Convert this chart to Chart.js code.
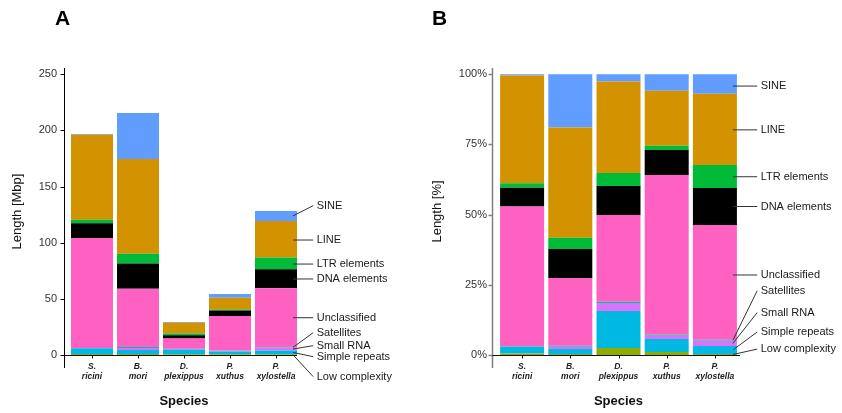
<!DOCTYPE html>
<html>
<head>
<meta charset="utf-8">
<script src="https://cdn.jsdelivr.net/npm/chart.js@4.4.1/dist/chart.umd.min.js"></script>
<style>
  body { margin: 0; background: #fff; }
  #wrap { position: relative; width: 842px; height: 413px; }
  canvas { position: absolute; top: 0; }
</style>
</head>
<body>
<div id="wrap">
  <canvas id="chartA" width="421" height="413" style="left:0"></canvas>
  <canvas id="chartB" width="421" height="413" style="left:421px"></canvas>
</div>
<script>
// data
const species = [['S.', 'ricini'], ['B.', 'mori'], ['D.', 'plexippus'], ['P.', 'xuthus'], ['P.', 'xylostella']];
const totalMbp = [196.9, 215.6, 29.4, 54.3, 128.3];

// stack order, bottom to top
const repeatClasses = ['Low complexity', 'Simple repeats', 'Small RNA', 'Satellites', 'Unclassified',
  'DNA elements', 'LTR elements', 'LINE', 'SINE'];

// share of each class in percent of the total repeat length
const lowComplexity = [0.5, 0.4, 2.5, 1.1, 0.35];
const simpleRepeats = [2.5, 1.7, 13.2, 4.6, 2.85];
const smallRNA = [0, 0.8, 2.8, 1.2, 1.9];
const satellites = [0, 0.4, 0.5, 0.3, 0.35];
const unclassified = [49.9, 24.1, 30.9, 56.9, 40.85];
const dnaElements = [6.7, 10.4, 10.3, 8.9, 13.2];
const ltrElements = [1.6, 4.0, 4.6, 1.5, 8.2];
const lineRep = [38.4, 39.2, 32.6, 19.6, 25.4];
const sineRep = [0.4, 19.0, 2.6, 5.9, 6.9];

const yTicksA = [0, 50, 100, 150, 200, 250];
const yTicksB = [0, 25, 50, 75, 100];

const percentSeries = [lowComplexity, simpleRepeats, smallRNA, satellites, unclassified,
  dnaElements, ltrElements, lineRep, sineRep];
const colors = ['#93AA00', '#00B9E3', '#DB72FB', '#00C19F', '#FF61C3', '#000000', '#00BA38', '#D39200', '#619CFF'];

const FONT = '"Liberation Sans", Arial, Helvetica, sans-serif';

// axes, panel letter and labelled leader lines
const decor = {
  id: 'decor',
  afterDraw(chart, args, o) {
    const { ctx, chartArea: a, scales: { x, y } } = chart;
    const ln = (x1, y1, x2, y2) => { ctx.beginPath(); ctx.moveTo(x1, y1); ctx.lineTo(x2, y2); ctx.stroke(); };
    ctx.save();

    ctx.fillStyle = '#000';
    ctx.font = 'bold 21px ' + FONT;
    ctx.textAlign = 'left';
    ctx.textBaseline = 'alphabetic';
    ctx.fillText(o.letter, o.letterX, 25);

    const ax = Math.round(a.left - o.gap) + 0.5;
    const by = Math.round(a.bottom) + 0.5;
    ctx.strokeStyle = o.yColor;
    ctx.lineWidth = o.yWidth;
    ln(ax, a.top, ax, a.bottom + 13);
    y.ticks.forEach(t => {
      const py = Math.round(y.getPixelForValue(t.value)) + 0.5;
      ln(ax - 4, py, ax, py);
    });
    ctx.strokeStyle = '#111';
    ctx.lineWidth = 1;
    ln(ax, by, a.right + o.xExt, by);
    x.ticks.forEach((t, i) => {
      const px = Math.round(x.getPixelForTick(i)) + 0.5;
      ln(px, by, px, by + 3);
    });

    ctx.font = '11px ' + FONT;
    ctx.textBaseline = 'middle';
    ctx.fillStyle = '#1a1a1a';
    ctx.strokeStyle = '#333';
    const last = chart.data.labels.length - 1;
    chart.data.datasets.forEach((ds, i) => {
      const bar = chart.getDatasetMeta(i).data[last].getProps(['x', 'y', 'base', 'width'], true);
      const ly = y.getPixelForValue(o.labelAt[i]);
      const top = Math.min(bar.y, bar.base), bot = Math.max(bar.y, bar.base);
      const anchor = (ly >= top && ly <= bot) ? ly : (top + bot) / 2;
      ln(bar.x + bar.width / 2 - 4, anchor, o.textX - 3.5, ly);
      ctx.fillText(ds.label, o.textX, ly);
    });
    ctx.restore();
  }
};

function makeDatasets(values) {
  return repeatClasses.map((name, i) => ({
    label: name,
    data: values[i],
    backgroundColor: colors[i],
    borderWidth: 0,
    barPercentage: 0.913,
    categoryPercentage: 1
  }));
}

function makeOptions(p) {
  return {
    responsive: false,
    animation: false,
    layout: { padding: { left: 0, right: p.padRight, top: 68, bottom: 0 } },
    plugins: { legend: { display: false }, tooltip: { enabled: false }, decor: p.decor },
    scales: {
      x: {
        stacked: true,
        grid: { display: false, drawTicks: false },
        border: { display: false },
        ticks: {
          autoSkip: false, maxRotation: 0, padding: 6, color: '#222',
          font: { family: FONT, size: 8.5, style: 'italic', weight: 'bold', lineHeight: 1.25 }
        },
        title: {
          display: true, text: 'Species', color: '#111',
          font: { family: FONT, size: 13, weight: 'bold' }, padding: { top: 0, bottom: 4 }
        },
        afterFit: s => { s.height = 58; }
      },
      y: {
        stacked: true,
        min: 0,
        max: p.yMax,
        grid: { display: false, drawTicks: false },
        border: { display: false },
        afterBuildTicks: s => { s.ticks = p.ticks.map(v => ({ value: v })); },
        ticks: {
          padding: p.tickPad, color: '#333',
          font: { family: FONT, size: 11 },
          callback: p.fmt
        },
        title: {
          display: true, text: p.title, color: '#111',
          font: { family: FONT, size: 13 }, padding: { top: p.titlePad, bottom: 0 }
        },
        afterFit: s => { s.width = p.axisWidth; }
      }
    }
  };
}

const mbpSeries = percentSeries.map(arr => arr.map((v, j) => v * totalMbp[j] / 100));

new Chart(document.getElementById('chartA'), {
  type: 'bar',
  data: { labels: species, datasets: makeDatasets(mbpSeries) },
  options: makeOptions({
    padRight: 122, yMax: 255.6, ticks: yTicksA, tickPad: 12, axisWidth: 69,
    title: 'Length [Mbp]', titlePad: 9.7, fmt: v => v,
    decor: {
      letter: 'A', letterX: 55, gap: 5, yColor: '#000', yWidth: 1, xExt: -2, textX: 316.7,
      labelAt: [-19.3, -1.5, 8.3, 19.9, 33.2, 67.7, 81, 102.4, 133]
    }
  }),
  plugins: [decor]
});

new Chart(document.getElementById('chartB'), {
  type: 'bar',
  data: { labels: species, datasets: makeDatasets(percentSeries) },
  options: makeOptions({
    padRight: 103, yMax: 102.24, ticks: yTicksB, tickPad: 11, axisWidth: 77,
    title: 'Length [%]', titlePad: 8.7, fmt: v => v + '%',
    decor: {
      letter: 'B', letterX: 11, gap: 5.6, yColor: '#808080', yWidth: 1.5, xExt: 1, textX: 339.7,
      labelAt: [2.1, 8.2, 15.1, 22.9, 28.5, 52.9, 63.5, 80.2, 95.8]
    }
  }),
  plugins: [decor]
});
</script>
</body>
</html>
